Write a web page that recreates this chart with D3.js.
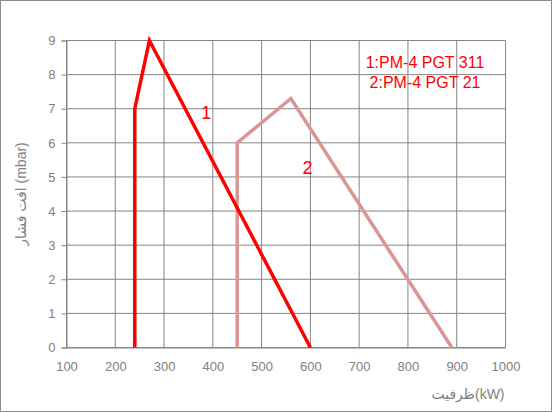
<!DOCTYPE html>
<html>
<head>
<meta charset="utf-8">
<script src="https://cdn.jsdelivr.net/npm/d3@7"></script>
<style>
  body { margin: 0; background: #fff; }
  svg { display: block; font-family: "Liberation Sans", "DejaVu Sans", sans-serif; }
</style>
</head>
<body>
<svg id="chart" width="552" height="412"></svg>
<script>
// series 1 (PM-4 PGT 311)
const s1x = [240, 240, 270, 600];
const s1y = [0, 7, 9, 0];
// series 2 (PM-4 PGT 21)
const s2x = [450, 450, 560, 890];
const s2y = [0, 6, 7.3, 0];

const xTicks = [100, 200, 300, 400, 500, 600, 700, 800, 900, 1000];
const yTicks = [0, 1, 2, 3, 4, 5, 6, 7, 8, 9];
const legendLines = ["1:PM-4 PGT 311", "2:PM-4 PGT 21"];
const seriesLabels = [{ t: "1", x: 376, y: 6.7 }, { t: "2", x: 584, y: 5.1 }];

const svg = d3.select("#chart");
const W = 552, H = 412;

svg.append("rect")
  .attr("x", 0.5).attr("y", 0.5)
  .attr("width", W - 1).attr("height", H - 1)
  .attr("fill", "#fff").attr("stroke", "#8c8c8c");

const x = d3.scaleLinear().domain([100, 1000]).range([66.5, 505.5]);
const y = d3.scaleLinear().domain([0, 9]).range([347.5, 40.5]);

const grid = svg.append("g");
grid.selectAll(".vg").data(xTicks).join("line")
  .attr("x1", d => x(d)).attr("x2", d => x(d))
  .attr("y1", y(0)).attr("y2", y(9))
  .attr("stroke", "#868686");
grid.selectAll(".hg").data(yTicks).join("line")
  .attr("x1", x(100)).attr("x2", x(1000))
  .attr("y1", d => y(d)).attr("y2", d => y(d))
  .attr("stroke", "#868686");

const yAxis = svg.append("g")
  .attr("transform", `translate(${x(100)},0)`)
  .call(d3.axisLeft(y).tickValues(yTicks).tickSize(5).tickPadding(6));
yAxis.select(".domain").attr("stroke", "#868686");
yAxis.selectAll(".tick line").attr("stroke", "#868686");
yAxis.selectAll("text").attr("fill", "#7f7f7f").style("font-size", "13px");

const xAxis = svg.append("g")
  .attr("transform", `translate(0,${y(0)})`)
  .call(d3.axisBottom(x).tickValues(xTicks).tickFormat(d3.format("d")).tickSize(0).tickPadding(14));
xAxis.select(".domain").attr("stroke", "#868686");
xAxis.selectAll("text").attr("fill", "#7f7f7f").style("font-size", "13px");

const line = d3.line().x(d => x(d[0])).y(d => y(d[1]));

svg.append("path")
  .datum(s2x.map((v, i) => [v, s2y[i]]))
  .attr("d", line)
  .attr("fill", "none")
  .attr("stroke", "#d99694")
  .attr("stroke-width", 3.5);

svg.append("path")
  .datum(s1x.map((v, i) => [v, s1y[i]]))
  .attr("d", line)
  .attr("fill", "none")
  .attr("stroke", "#ff0000")
  .attr("stroke-width", 3.5);

svg.selectAll(".slab").data(seriesLabels).join("text")
  .attr("x", d => x(d.x)).attr("y", d => y(d.y))
  .attr("fill", "#ff0000")
  .style("font-size", "18px")
  .text(d => d.t);

svg.selectAll(".leg").data(legendLines).join("text")
  .attr("x", 425).attr("y", (d, i) => 68 + i * 20)
  .attr("text-anchor", "middle")
  .attr("fill", "#ff0000")
  .style("font-size", "16px")
  .text(d => d);

svg.append("text")
  .attr("transform", "translate(26,194) rotate(-90)")
  .attr("text-anchor", "middle")
  .attr("fill", "#7f7f7f")
  .style("font-size", "14px")
  .text("افت فشار (mbar)");

svg.append("text")
  .attr("x", 468).attr("y", 399)
  .attr("text-anchor", "middle")
  .attr("fill", "#7f7f7f")
  .style("font-size", "14px")
  .text("ظرفیت(kW)");
</script>
</body>
</html>
